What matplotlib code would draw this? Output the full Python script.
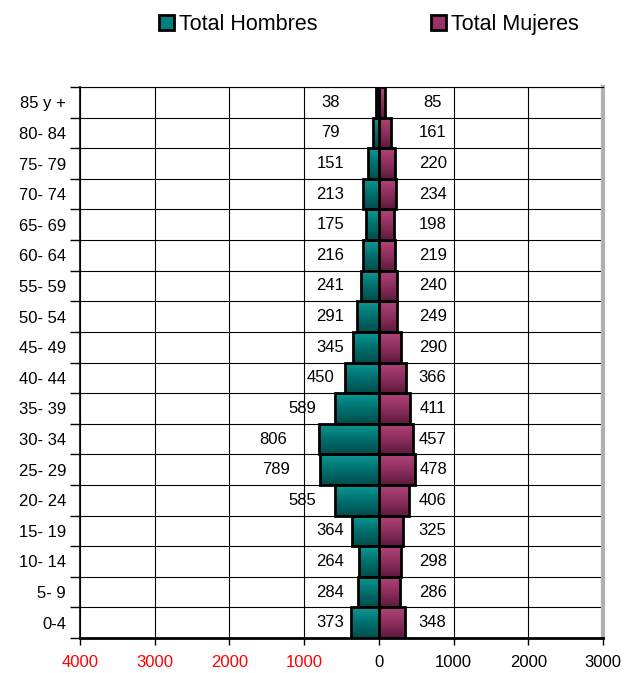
import numpy as np
import matplotlib
matplotlib.use('Agg')
import matplotlib.pyplot as plt
from matplotlib.patches import Patch
from matplotlib.colors import LinearSegmentedColormap

plt.rcParams['font.family'] = ['Liberation Sans', 'DejaVu Sans']

# age groups, bottom to top
grupos = ['0-4', '5- 9', '10- 14', '15- 19', '20- 24', '25- 29', '30- 34', '35- 39',
          '40- 44', '45- 49', '50- 54', '55- 59', '60- 64', '65- 69', '70- 74',
          '75- 79', '80- 84', '85 y +']
hombres = [373, 284, 264, 364, 585, 789, 806, 589, 450, 345, 291, 241, 216, 175, 213, 151, 79, 38]
mujeres = [348, 286, 298, 325, 406, 478, 457, 411, 366, 290, 249, 240, 219, 198, 234, 220, 161, 85]
xticks = [-4000, -3000, -2000, -1000, 0, 1000, 2000, 3000]
xlabels = ['4000', '3000', '2000', '1000', '0', '1000', '2000', '3000']

c_h = '#008080'
c_m = '#993366'
cmap_h = LinearSegmentedColormap.from_list('h', ['#0a9a94', '#007070', '#004e4c'])
cmap_m = LinearSegmentedColormap.from_list('m', ['#b0457a', '#8e2f5e', '#5e1a3c'])

fig = plt.figure(figsize=(6.38, 6.73), dpi=100)
ax = fig.add_axes([0.1254, 0.052, 0.8197, 0.8187])

y = np.arange(len(grupos))
grad = np.linspace(0, 1, 50).reshape(-1, 1)

bh = ax.barh(y, [-v for v in hombres], height=1.0, color=c_h, edgecolor='black', linewidth=2, zorder=3)
bm = ax.barh(y, mujeres, height=1.0, color=c_m, edgecolor='black', linewidth=2, zorder=3)

# gradient fill clipped to each bar
for bars, cmap in [(bh, cmap_h), (bm, cmap_m)]:
    for b in bars:
        x0, y0 = b.get_x(), b.get_y()
        w, h = b.get_width(), b.get_height()
        im = ax.imshow(grad, cmap=cmap, aspect='auto', origin='upper',
                       extent=[x0, x0 + w, y0, y0 + h], zorder=3.5)
        im.set_clip_path(b)
    for b in bars:
        b.set_facecolor('none')
        b.set_zorder(4)

for i in range(len(grupos)):
    ax.text(-max(650, 1.75 * hombres[i]), y[i], str(hombres[i]), ha='center', va='center', fontsize=12, zorder=5)
    ax.text(max(720, mujeres[i] + 260), y[i], str(mujeres[i]), ha='center', va='center', fontsize=12, zorder=5)

ax.set_xlim(-4000, 3000)
ax.set_ylim(-0.5, len(grupos) - 0.5)
ax.set_xticks(xticks)
ax.set_xticklabels(xlabels, fontsize=12)
for lab, v in zip(ax.get_xticklabels(), xticks):
    lab.set_color('red' if v < 0 else 'black')
ax.set_yticks(y)
ax.set_yticklabels(grupos, fontsize=12)
ax.set_yticks(np.arange(-0.5, len(grupos), 1.0), minor=True)
ax.tick_params(axis='y', which='major', length=0, pad=10)
ax.tick_params(axis='y', which='minor', length=7, width=1)
ax.tick_params(axis='x', length=5, width=1, pad=7)

ax.grid(axis='x', which='major', color='black', linewidth=0.8, zorder=0)
ax.grid(axis='y', which='minor', color='black', linewidth=0.8, zorder=0)
ax.set_axisbelow(True)

ax.spines['left'].set_linewidth(1.2)
ax.spines['bottom'].set_linewidth(2)
ax.spines['top'].set_linewidth(0.8)
ax.spines['right'].set_color('#b0b0b0')
ax.spines['right'].set_linewidth(3)

handles = [Patch(facecolor=c_h, edgecolor='black', linewidth=2, label='Total Hombres'),
           Patch(facecolor=c_m, edgecolor='black', linewidth=2, label='Total Mujeres')]
fig.legend(handles=handles, loc='center', bbox_to_anchor=(0.578, 0.963), ncol=2, frameon=False,
           fontsize=15.5, handlelength=0.7, handleheight=0.7, handletextpad=0.2, columnspacing=5.3)

fig.savefig('out.png', dpi=100)
